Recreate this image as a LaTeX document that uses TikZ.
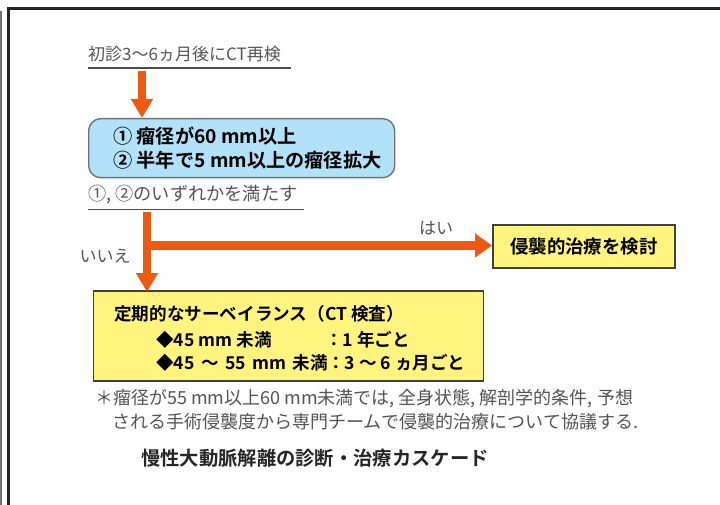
\documentclass[tikz,border=0pt]{standalone}
\usepackage{fontspec}
\setmainfont{Noto Sans CJK JP}[BoldFont={Noto Sans CJK JP Bold}]
\usetikzlibrary{arrows.meta}
\definecolor{oran}{HTML}{EE5A12}
\definecolor{bluef}{HTML}{B2E2F8}
\definecolor{yelf}{HTML}{FFF57E}
\definecolor{gtxt}{HTML}{555555}
\tikzset{
  gtext/.style={inner sep=0pt, text=gtxt, font=\fontsize{17}{20}\selectfont},
  ftext/.style={inner sep=0pt, text=gtxt, font=\fontsize{18}{21}\selectfont},
  btext/.style={inner sep=0pt, text=black, font=\bfseries\fontsize{19.2}{22}\selectfont},
  stext/.style={inner sep=0pt, text=black, font=\bfseries\fontsize{17.6}{21}\selectfont},
  uline/.style={draw=gtxt!90!black, line width=1.6pt},
  oarrow/.style={draw=oran, line width=8pt, -{Triangle[width=21pt,length=19pt]}},
  oline/.style={draw=oran, line width=8pt},
  bluebox/.style={draw=black!55, line width=1.4pt, fill=bluef, rounded corners=12pt, inner sep=0pt},
  yelbox/.style={draw=black!75, line width=1.6pt, fill=yelf, inner sep=0pt},
}
\begin{document}
\begin{tikzpicture}[x=1pt,y=-1pt]
\useasboundingbox (0,0) rectangle (720,505);
\fill[white] (0,0) rectangle (720,505);
% frame
\fill[black!55] (0,11) rectangle (2,505);
\draw[line width=2.4pt, black!85] (8.5,505) -- (8.5,8.5) -- (720,8.5);

% title
\node[gtext, anchor=base west] (t1) at (88,61) {初診3〜6ヵ月後にCT再検};
\coordinate (u1a) at (88,68);
\coordinate (u1b) at (291,68);
\draw[uline] (u1a) -- (u1b);

% blue box
\node[bluebox, anchor=north west, minimum width=306pt, minimum height=59pt] (blue) at (88,118) {};
\node[btext, anchor=base west] (c1) at (113,144) {① 瘤径が60 mm以上};
\node[btext, anchor=base west] (c2) at (113,168) {② 半年で5 mm以上の瘤径拡大};

\coordinate (a1s) at (142,71);
\draw[oarrow] (a1s) -- (a1s |- blue.north);

% condition
\node[gtext, anchor=base west, font=\fontsize{18.2}{21}\selectfont] (t2) at (88,201) {①, ②のいずれかを満たす};
\coordinate (u2a) at (88,209.5);
\coordinate (u2b) at (304,209.5);
\draw[uline] (u2a) -- (u2b);

% right yellow box
\node[yelbox, anchor=north west, minimum width=182pt, minimum height=43pt, font=\bfseries\fontsize{18.4}{22}\selectfont] (inv) at (492,224) {侵襲的治療を検討};

% lower yellow box
\node[yelbox, anchor=north west, minimum width=390pt, minimum height=90pt] (surv) at (92.5,290) {};
\node[stext, anchor=base west] (s1) at (114,320) {定期的なサーベイランス（CT 検査）};
\node[stext, anchor=base west] (s2) at (156,346) {◆45 mm 未満};
\node[stext, anchor=base west] (s2b) at (325,346) {：1 年ごと};
\node[stext, anchor=base west] (s3) at (156,369) {◆45\hspace{6.5pt}〜\hspace{6.5pt}55\hspace{6.5pt}mm\hspace{6.5pt}未満};
\node[stext, anchor=base west] (s3b) at (327,369) {：3 〜 6 ヵ月ごと};

% arrows
\coordinate (a2s) at (147,212);
\coordinate (br) at (147,245.5);
\draw[oline] (a2s) -- (br);
\draw[oarrow] (br) -- ([yshift=-2pt]br |- surv.north);
\draw[draw=oran, line width=9.5pt, -{Triangle[width=23pt,length=17pt]}] ([xshift=-4pt]br) -- (br -| inv.west);
\node[gtext, anchor=base] (yes) at (436,234) {はい};
\node[gtext, anchor=base] (no) at (105,262) {いいえ};

% footnote
\node[ftext, anchor=base west] (f1) at (95,404) {＊瘤径が55 mm以上60 mm未満では, 全身状態, 解剖学的条件, 予想};
\node[ftext, anchor=base west] (f2) at (112,428) {される手術侵襲度から専門チームで侵襲的治療について協議する.};

% caption
\node[anchor=base west, inner sep=0pt, font=\bfseries\fontsize{19.3}{23}\selectfont, text=black!85] (cap) at (141,465) {慢性大動脈解離の診断・治療カスケード};
\end{tikzpicture}
\end{document}
